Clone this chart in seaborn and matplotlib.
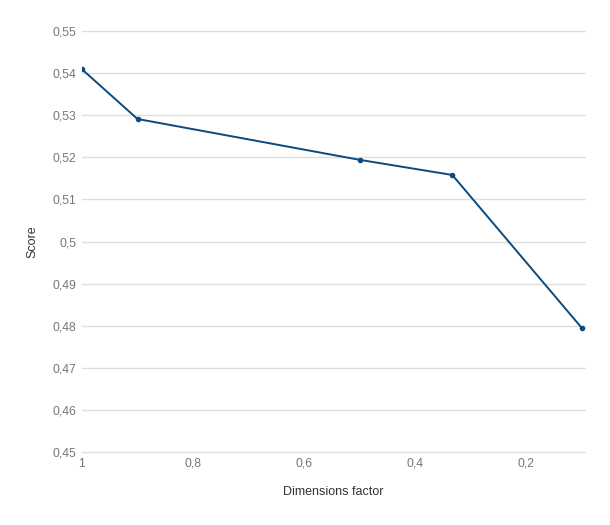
import matplotlib
matplotlib.use("Agg")
import matplotlib.pyplot as plt
import seaborn as sns
import pandas as pd
from matplotlib.ticker import FuncFormatter, MultipleLocator

# ---------- data ----------
dim_factor = [1.0, 0.9, 0.5, 0.333, 0.1]
score = [0.5409, 0.5291, 0.5194, 0.5158, 0.4795]

sns.set_style("white")
plt.rcParams["font.family"] = ["Liberation Sans", "DejaVu Sans"]

df = pd.DataFrame({"Dimensions factor": dim_factor, "Score": score})

fig = plt.figure(figsize=(6.1, 5.25), dpi=100)
ax = fig.add_axes([0.1344, 0.139, 0.8246, 0.802])

sns.lineplot(data=df, x="Dimensions factor", y="Score", ax=ax,
             color="#0a4a80", linewidth=1.4, marker="o", markersize=4,
             markeredgewidth=0)

ax.set_xlim(1.0, 0.094)
ax.set_ylim(0.45, 0.55)
ax.xaxis.set_major_locator(MultipleLocator(0.2))
ax.yaxis.set_major_locator(MultipleLocator(0.01))

comma = FuncFormatter(lambda v, p: f"{v:.2f}".rstrip("0").rstrip(".").replace(".", ","))
ax.xaxis.set_major_formatter(comma)
ax.yaxis.set_major_formatter(comma)

ax.grid(axis="y", color="#dddddd", linewidth=1)
ax.grid(axis="x", visible=False)
for gl in ax.get_ygridlines():
    gl.set_clip_on(False)
for s in ax.spines.values():
    s.set_visible(False)

ax.tick_params(axis="both", colors="#777777", labelsize=8.8, length=0)
ax.tick_params(axis="y", pad=4)
ax.tick_params(axis="x", pad=4)
ax.set_xlabel("Dimensions factor", fontsize=9, color="#333333", labelpad=12)
ax.set_ylabel("Score", fontsize=9, color="#333333", labelpad=10)

fig.savefig("out.png", dpi=100)
